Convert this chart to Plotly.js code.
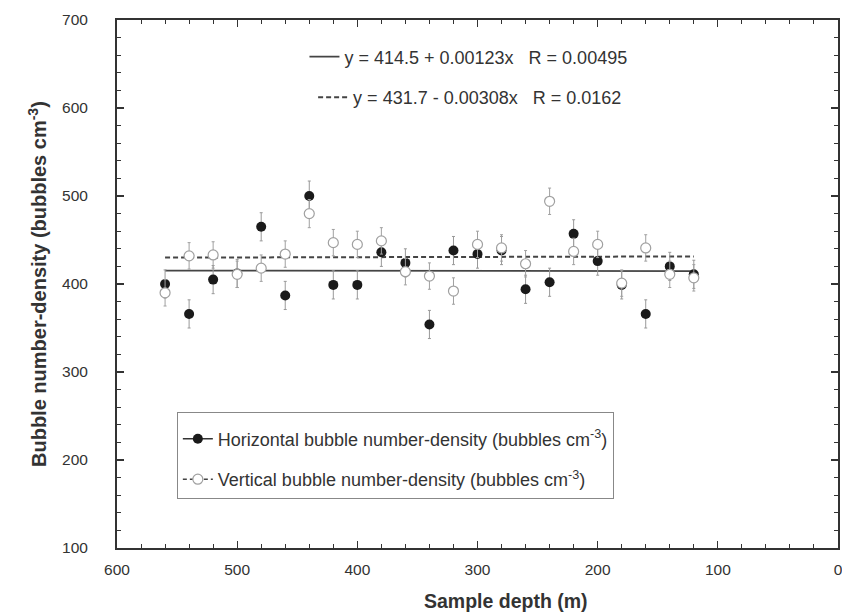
<!DOCTYPE html>
<html>
<head>
<meta charset="utf-8">
<script src="https://cdn.plot.ly/plotly-3.0.1.min.js"></script>
<style>html,body{margin:0;padding:0;background:#fff;}#chart{width:842px;height:615px;}</style>
</head>
<body>
<div id="chart"></div>
<script>
// Sample depth (m)
var depth = [560, 540, 520, 500, 480, 460, 440, 420, 400, 380, 360, 340, 320, 300, 280, 260, 240, 220, 200, 180, 160, 140, 120];
// Horizontal bubble number-density (bubbles cm-3)
var horizontal = [400, 366, 405, 412, 465, 387, 500, 399, 399, 436, 424, 354, 438, 434, 438, 394, 402, 457, 426, 399, 366, 420, 411];
var horizontalErr = [16, 16, 16, 16, 16, 16, 17, 16, 16, 16, 16, 16, 16, 16, 16, 16, 16, 16, 16, 16, 16, 16, 16];
// Vertical bubble number-density (bubbles cm-3)
var vertical = [390, 432, 433, 411, 418, 434, 480, 447, 445, 449, 414, 409, 392, 445, 441, 423, 494, 437, 445, 401, 441, 411, 407];
var verticalErr = [15, 15, 15, 15, 15, 15, 16, 15, 15, 15, 15, 15, 15, 15, 15, 15, 15, 15, 15, 15, 15, 15, 15];
// Linear fits (end points)
var fitDepth = [560, 120];
var fitHorizontal = [415.2, 414.6];
var fitVertical = [430.0, 431.3];
var fitHLabel = "y = 414.5 + 0.00123x   R = 0.00495";
var fitVLabel = "y = 431.7 - 0.00308x   R = 0.0162";
var hName = "Horizontal bubble number-density (bubbles cm<sup>-3</sup>)";
var vName = "Vertical bubble number-density (bubbles cm<sup>-3</sup>)";
var xTitle = "Sample depth (m)";
var yTitle = "Bubble number-density (bubbles cm<sup>-3</sup>)";

// interleave nulls so points stay unconnected but legend shows line+marker
function gap(a){var o=[];for(var i=0;i<a.length;i++){o.push(a[i]);if(i<a.length-1)o.push(null);}return o;}

var txt = '#333333';
var FONT = 'Liberation Sans, Arial, sans-serif';

var traces = [
  {x: fitDepth, y: fitHorizontal, mode: 'lines', name: fitHLabel, legend: 'legend2',
   line: {color: '#444', width: 1.8}, hoverinfo: 'skip'},
  {x: fitDepth, y: fitVertical, mode: 'lines', name: fitVLabel, legend: 'legend3',
   line: {color: '#444', width: 2, dash: '5px,3px'}, hoverinfo: 'skip'},
  {x: gap(depth), y: gap(horizontal), mode: 'lines+markers', name: hName, legendgroup: 'h',
   connectgaps: false,
   line: {color: '#333', width: 1.5},
   marker: {symbol: 'circle', size: 10, color: '#1a1a1a', line: {color: '#1a1a1a', width: 0}},
   error_y: {type: 'data', array: gap(horizontalErr), visible: true, color: '#999999', thickness: 1, width: 1.5}},
  {x: gap(depth), y: gap(vertical), mode: 'lines+markers', name: vName, legendgroup: 'v',
   connectgaps: false,
   line: {color: '#444', width: 1.5, dash: '4px,3px'},
   marker: {symbol: 'circle', size: 10, color: '#ffffff', line: {color: '#a0a0a0', width: 1.2}},
   error_y: {type: 'data', array: gap(verticalErr), visible: true, color: '#a0a0a0', thickness: 1, width: 1.5}}
];

var axisCommon = {
  showline: true, linewidth: 2, linecolor: '#333', mirror: 'ticks',
  ticks: 'inside', ticklen: 7, tickwidth: 1.2, tickcolor: '#333',
  showgrid: false, zeroline: false, ticklabeloverflow: 'allow',
  tickfont: {family: FONT, size: 15.5, color: txt}
};

var layout = {
  width: 842, height: 615,
  margin: {l: 117, r: 4, t: 20, b: 67},
  paper_bgcolor: '#fff', plot_bgcolor: '#fff',
  font: {family: FONT, color: txt},
  xaxis: Object.assign({}, axisCommon, {
    range: [600, 0], dtick: 100, tick0: 0,
    minor: {ticks: 'inside', dtick: 20, ticklen: 4, tickcolor: '#333', tickwidth: 1},
    ticklabelstandoff: 6
  }),
  yaxis: Object.assign({}, axisCommon, {
    range: [100, 700], dtick: 100, tick0: 0,
    minor: {ticks: 'inside', dtick: 20, ticklen: 4, tickcolor: '#333', tickwidth: 1},
    ticklabelstandoff: 24
  }),
  annotations: [
    {text: xTitle, xref: 'paper', yref: 'paper', x: 0.54, y: -0.10, xanchor: 'center', yanchor: 'middle',
     yshift: 0, showarrow: false, font: {family: FONT, size: 19.5, color: txt, weight: 'bold'}},
    {text: yTitle, xref: 'paper', yref: 'paper', x: 0, xshift: -80, y: 0.5, xanchor: 'center', yanchor: 'middle',
     textangle: -90, showarrow: false, font: {family: FONT, size: 20, color: txt, weight: 'bold'}}
  ],
  showlegend: true,
  legend: {
    x: 0.083, y: 0.258, xanchor: 'left', yanchor: 'top',
    bgcolor: '#fff', bordercolor: '#888', borderwidth: 1,
    font: {family: FONT, size: 18, color: txt},
    title: {text: ' ', font: {family: FONT, size: 6}},
    tracegroupgap: 14, traceorder: 'grouped', itemwidth: 30
  },
  legend2: {
    x: 0.26, y: 0.965, xanchor: 'left', yanchor: 'top',
    bgcolor: 'rgba(0,0,0,0)', borderwidth: 0,
    font: {family: FONT, size: 18, color: txt}, itemwidth: 30
  },
  legend3: {
    x: 0.272, y: 0.888, xanchor: 'left', yanchor: 'top',
    bgcolor: 'rgba(0,0,0,0)', borderwidth: 0,
    font: {family: FONT, size: 18, color: txt}, itemwidth: 30
  }
};

Plotly.newPlot('chart', traces, layout, {staticPlot: true, displayModeBar: false});
</script>
</body>
</html>
